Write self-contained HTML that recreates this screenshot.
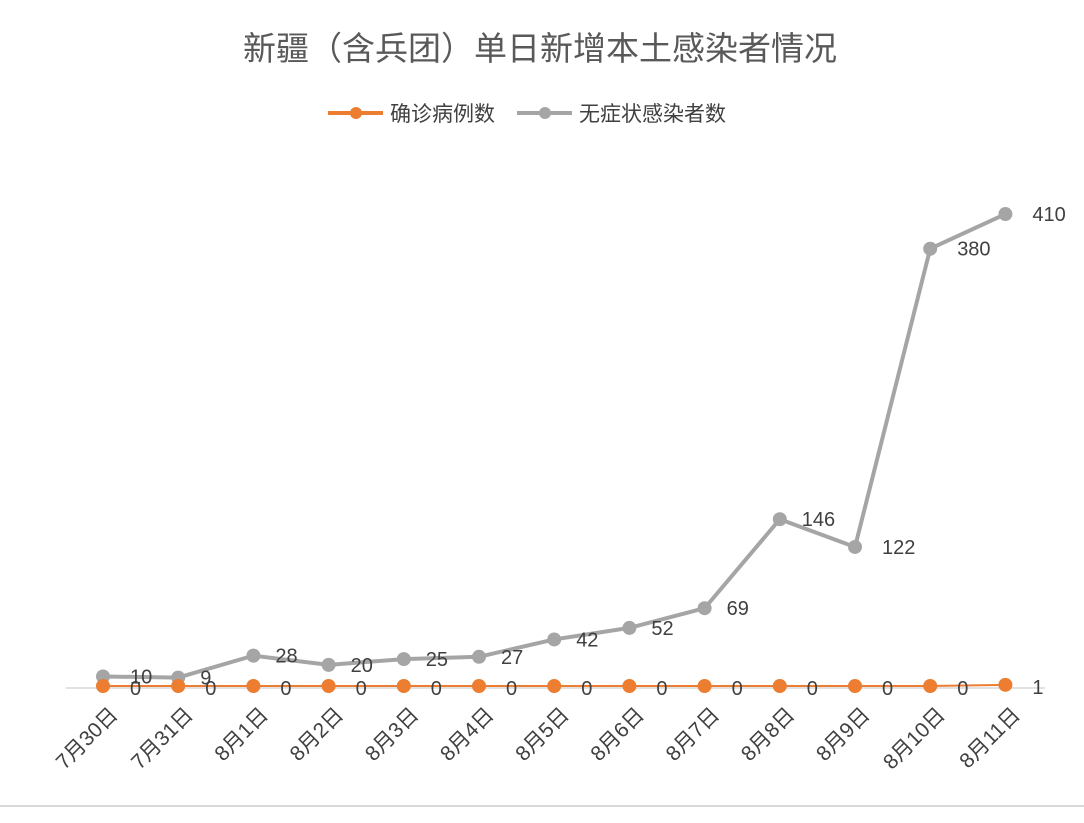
<!DOCTYPE html>
<html><head><meta charset="utf-8"><style>
body{margin:0;background:#fff;}
svg text{font-family:"Liberation Sans","Noto Sans CJK SC",sans-serif;}
</style></head><body>
<svg width="1084" height="818" viewBox="0 0 1084 818" xmlns="http://www.w3.org/2000/svg">
<rect width="1084" height="818" fill="#fff"/>
<line x1="0" y1="806" x2="1084" y2="806" stroke="#d9d9d9" stroke-width="2"/>
<text x="540" y="60" font-size="33" fill="#595959" text-anchor="middle">新疆（含兵团）单日新增本土感染者情况</text>
<g font-size="21" fill="#404040">
<line x1="328" y1="113" x2="383" y2="113" stroke="#ed7d31" stroke-width="4"/>
<circle cx="356" cy="113" r="6" fill="#ed7d31"/>
<text x="390" y="121">确诊病例数</text>
<line x1="517" y1="113" x2="572" y2="113" stroke="#a5a5a5" stroke-width="4"/>
<circle cx="545" cy="113" r="6" fill="#a5a5a5"/>
<text x="579" y="121">无症状感染者数</text>
</g>
<line x1="66" y1="688" x2="1045" y2="688" stroke="#d9d9d9" stroke-width="1.5"/>
<g id="c"></g>
</svg>
<script>
const xs=[],g=document.getElementById('c'),NS='http://www.w3.org/2000/svg';
for(let i=0;i<13;i++)xs.push(103+i*75.2);
const gv=[10,9,28,20,25,27,42,52,69,146,122,380,410];
const ov=[0,0,0,0,0,0,0,0,0,0,0,0,1];
const lbl=['7月30日','7月31日','8月1日','8月2日','8月3日','8月4日','8月5日','8月6日','8月7日','8月8日','8月9日','8月10日','8月11日'];
const Y=v=>688-v*1.156;
function el(t,a,txt){const e=document.createElementNS(NS,t);for(const k in a)e.setAttribute(k,a[k]);if(txt!==undefined)e.textContent=txt;g.appendChild(e);return e;}
el('polyline',{points:ov.map((v,i)=>xs[i]+','+(Y(v)-2)).join(' '),fill:'none',stroke:'#ed7d31','stroke-width':2});
el('polyline',{points:gv.map((v,i)=>xs[i]+','+Y(v)).join(' '),fill:'none',stroke:'#a5a5a5','stroke-width':4,'stroke-linejoin':'round'});
gv.forEach((v,i)=>el('circle',{cx:xs[i],cy:Y(v),r:7,fill:'#a5a5a5'}));
ov.forEach((v,i)=>el('circle',{cx:xs[i],cy:Y(v)-2,r:7,fill:'#ed7d31'}));
gv.forEach((v,i)=>{let dx=i==0?27:22; if(i>=10)dx=27; el('text',{x:xs[i]+dx,y:Y(v)+7,'font-size':20,fill:'#404040'},v);});
ov.forEach((v,i)=>el('text',{x:xs[i]+27,y:Y(v)+7,'font-size':20,fill:'#404040'},v));
lbl.forEach((t,i)=>el('text',{x:xs[i]+16,y:716,'font-size':21,fill:'#404040','text-anchor':'end',transform:`rotate(-45 ${xs[i]+16} 716)`},t));
</script>
</body></html>
